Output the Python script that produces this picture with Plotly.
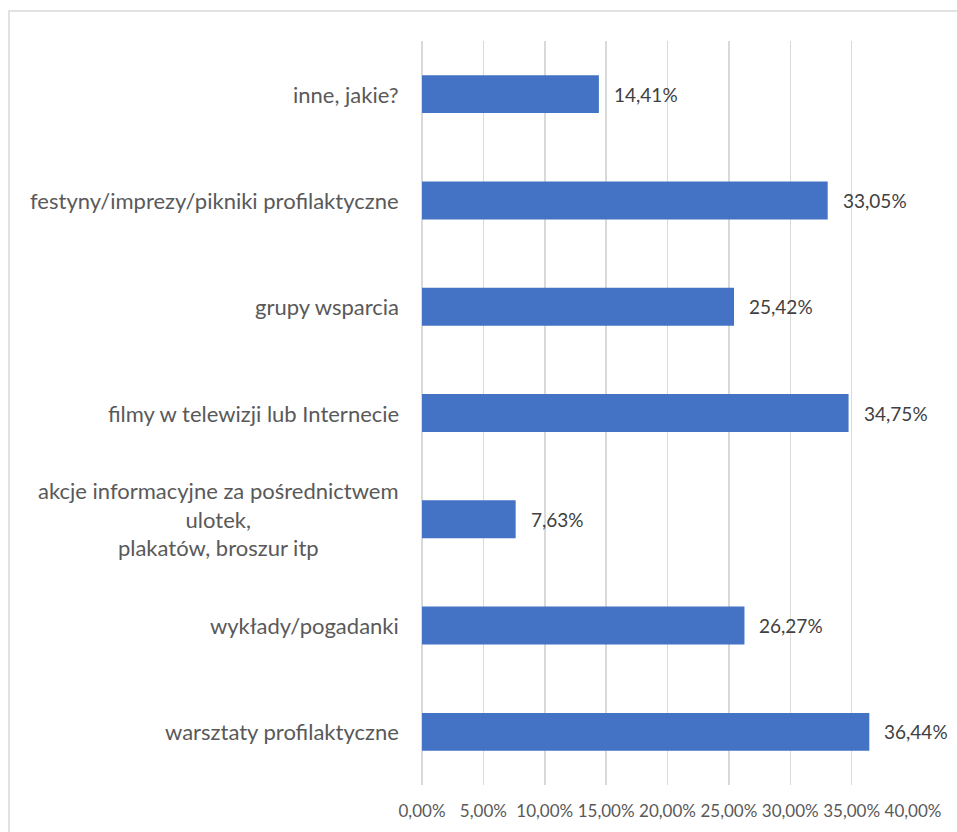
import plotly.graph_objects as go

categories = [
    "inne, jakie?",
    "festyny/imprezy/pikniki profilaktyczne",
    "grupy wsparcia",
    "filmy w telewizji lub Internecie",
    "akcje informacyjne za pośrednictwem<br>ulotek,<br>plakatów, broszur itp",
    "wykłady/pogadanki",
    "warsztaty profilaktyczne",
]
values = [14.41, 33.05, 25.42, 34.75, 7.63, 26.27, 36.44]
tick_values = [0, 5, 10, 15, 20, 25, 30, 35, 40]

W, H = 957, 832
ML, MR, MT, MB = 422, 44, 41, 47
PW, PH = W - ML - MR, H - MT - MB

fig = go.Figure()
fig.add_trace(go.Bar(
    y=categories, x=values, orientation="h",
    marker=dict(color="#4472C4", line=dict(width=0)),
    hoverinfo="skip",
))

annotations = []
for c, v in zip(categories, values):
    annotations.append(dict(
        x=0, xref="paper", y=c, yref="y", xanchor="right", yanchor="middle",
        xshift=-21, text=c, showarrow=False, align="center",
        font=dict(family="Lato", size=22, color="#595959"),
    ))
    annotations.append(dict(
        x=v, xref="x", y=c, yref="y", xanchor="left", yanchor="middle",
        xshift=13, text=f"{v:.2f}%".replace(".", ","), showarrow=False,
        font=dict(family="Lato", size=19, color="#404040"),
    ))

fig.update_layout(
    width=W, height=H,
    margin=dict(l=ML, r=MR, t=MT, b=MB, pad=0, autoexpand=False),
    paper_bgcolor="white", plot_bgcolor="white",
    separators=", ",
    showlegend=False,
    bargap=0.643,
    annotations=annotations,
    shapes=[dict(
        type="rect", xref="paper", yref="paper",
        x0=(9 - ML) / PW, x1=(W + 5 - ML) / PW,
        y0=-(H + 5 - (MT + PH)) / PH, y1=1 + (MT - 11) / PH,
        line=dict(color="#d9d9d9", width=1.5), layer="below",
    )],
    xaxis=dict(
        range=[0, 40], tickvals=tick_values,
        ticktext=[f"{t:.2f}%".replace(".", ",") for t in tick_values],
        showgrid=True, gridcolor="#d9d9d9", gridwidth=1.5,
        zeroline=True, zerolinecolor="#d9d9d9", zerolinewidth=1.5,
        showline=False, ticks="",
        tickfont=dict(family="Lato", size=17, color="#595959"),
        tickangle=0, automargin=False,
        ticklabelstandoff=14,
        fixedrange=True,
    ),
    yaxis=dict(
        autorange="reversed", showticklabels=False, showgrid=False,
        zeroline=False, showline=False, ticks="",
        automargin=False,
        fixedrange=True,
    ),
)

fig.write_html(
    "out.html",
    config={"displayModeBar": False, "staticPlot": True},
    post_script="document.body.style.margin='0';document.body.style.overflow='hidden';",
)
